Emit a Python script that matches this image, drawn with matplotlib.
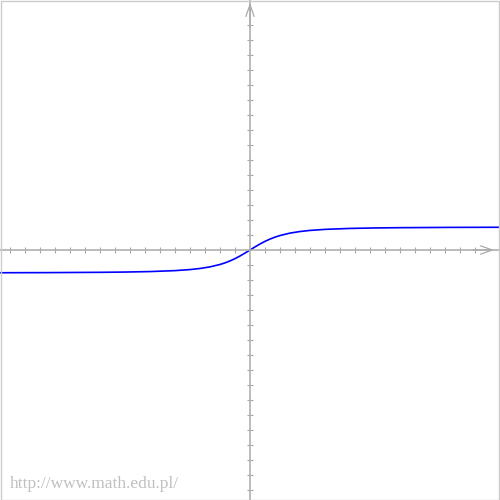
import matplotlib.pyplot as plt
from matplotlib.patches import Rectangle

# punkty krzywej (jednostka = 1 podzialka)
x_vals = [-16.67, -13.33, -10.0, -8.33, -6.67, -5.0, -4.0, -3.33, -2.67, -2.0, -1.67, -1.33, -1.0, -0.67, -0.33, 0.0,
          0.33, 0.67, 1.0, 1.33, 1.67, 2.0, 2.67, 3.33, 4.0, 5.0, 6.67, 8.33, 10.0, 13.33, 16.67]
y_vals = [-1.516, -1.507, -1.488, -1.470, -1.438, -1.375, -1.305, -1.232, -1.126, -0.965, -0.859, -0.727, -0.576, -0.402, -0.203, 0.0,
          0.203, 0.402, 0.576, 0.727, 0.859, 0.965, 1.126, 1.232, 1.305, 1.375, 1.438, 1.470, 1.488, 1.507, 1.516]
x_ticks = list(range(-16, 16))
y_ticks = list(range(-16, 16))

gray = '#aaaaaa'
lim = 250 / 15

fig = plt.figure(figsize=(5, 5), dpi=100)
ax = fig.add_axes([0, 0, 1, 1])
ax.set_xlim(-lim, lim)
ax.set_ylim(-lim, lim)

# osie przez srodek
for s in ['top', 'right']:
    ax.spines[s].set_visible(False)
for s in ['left', 'bottom']:
    ax.spines[s].set_position('zero')
    ax.spines[s].set_color(gray)
    ax.spines[s].set_linewidth(1.1)
ax.set_xticks([t for t in x_ticks if t != 0])
ax.set_yticks([t for t in y_ticks if t != 0])
ax.tick_params(direction='inout', length=4.5, width=0.8, color=gray,
               labelbottom=False, labelleft=False)

# strzalki
ax.annotate('', xy=(lim - 0.2, 0), xytext=(lim - 2, 0),
            arrowprops=dict(arrowstyle='->,head_length=0.85,head_width=0.3', color=gray, lw=0.9))
ax.annotate('', xy=(0, lim), xytext=(0, lim - 2),
            arrowprops=dict(arrowstyle='->,head_length=0.85,head_width=0.3', color=gray, lw=0.9))

# wykres funkcji
ax.plot(x_vals, y_vals, color='#0000ff', lw=1.2)

# ramka i podpis
fig.patches.append(Rectangle((0.001, 0.001), 0.997, 0.997, transform=fig.transFigure,
                             fill=False, edgecolor='#cccccc', lw=1))
fig.text(10 / 500, 1 - 488 / 500, 'http://www.math.edu.pl/', color='#c0c0c0',
         fontsize=12.5, family='Liberation Serif', va='baseline', ha='left')

fig.savefig('out.png', dpi=100)
